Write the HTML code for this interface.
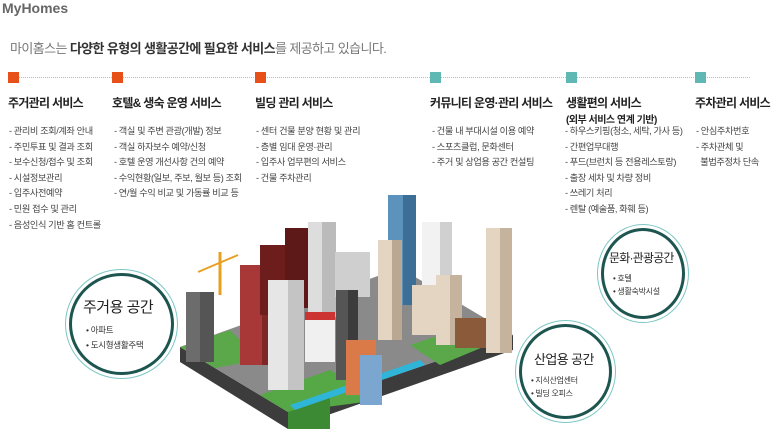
<!DOCTYPE html>
<html><head><meta charset="utf-8"><style>
body{margin:0;width:779px;height:429px;background:#fff;overflow:hidden;position:relative;font-family:"Liberation Sans","Noto Sans CJK KR",sans-serif;color:#333}
.a{position:absolute;white-space:nowrap}
.t{font-size:14px;font-weight:bold;color:#666;left:2px;top:0px}
.sub{left:10px;top:38px;font-size:13px;color:#777;letter-spacing:-0.6px}
.sub b{color:#333}
.sq{position:absolute;width:11px;height:11px;top:72px}
.o{background:#e8501a}.g{background:#5fb8b4}
.h{font-size:12px;font-weight:bold;color:#222;top:94px;letter-spacing:-0.7px}
.l{font-size:9.2px;color:#444;line-height:15.6px;letter-spacing:-0.4px}
.c{position:absolute;border-radius:50%;border:1.5px solid #7cc7c4;background:#fff}
.c>div{position:absolute;inset:3px;border-radius:50%;border:3px solid #1d5550}
</style></head><body>
<div class="a t">MyHomes</div>
<div class="a sub">마이홈스는 <b>다양한 유형의 생활공간에 필요한 서비스</b>를 제공하고 있습니다.</div>
<div class="a" style="left:10px;top:77px;width:740px;border-top:1px dotted #bbb"></div>
<div class="sq o" style="left:8px"></div><div class="sq o" style="left:112px"></div><div class="sq o" style="left:255px"></div>
<div class="sq g" style="left:430px"></div><div class="sq g" style="left:566px"></div><div class="sq g" style="left:695px"></div>
<div class="a h" style="left:8px">주거관리 서비스</div>
<div class="a h" style="left:112px">호텔&amp; 생숙 운영 서비스</div>
<div class="a h" style="left:255px">빌딩 관리 서비스</div>
<div class="a h" style="left:430px">커뮤니티 운영·관리 서비스</div>
<div class="a h" style="left:566px">생활편의 서비스</div>
<div class="a" style="left:566px;top:111px;font-size:10px;font-weight:bold;color:#222;letter-spacing:-0.5px">(외부 서비스 연계 기반)</div>
<div class="a h" style="left:695px">주차관리 서비스</div>
<div class="a l" style="left:9px;top:124px">- 관리비 조회/계좌 안내<br>- 주민투표 및 결과 조회<br>- 보수신청/접수 및 조회<br>- 시설정보관리<br>- 입주사전예약<br>- 민원 접수 및 관리<br>- 음성인식 기반 홈 컨트롤</div>
<div class="a l" style="left:114px;top:124px">- 객실 및 주변 관광(개발) 정보<br>- 객실 하자보수 예약/신청<br>- 호텔 운영 개선사항 건의 예약<br>- 수익현황(일보, 주보, 월보 등) 조회<br>- 연/월 수익 비교 및 가동률 비교 등</div>
<div class="a l" style="left:256px;top:124px">- 센터 건물 분양 현황 및 관리<br>- 층별 임대 운영·관리<br>- 입주사 업무편의 서비스<br>- 건물 주차관리</div>
<div class="a l" style="left:432px;top:124px">- 건물 내 부대시설 이용 예약<br>- 스포츠클럽, 문화센터<br>- 주거 및 상업용 공간 컨설팅</div>
<div class="a l" style="left:565px;top:124px">- 하우스키핑(청소, 세탁, 가사 등)<br>- 간편업무대행<br>- 푸드(브런치 등 전용레스토랑)<br>- 출장 세차 및 차량 정비<br>- 쓰레기 처리<br>- 렌탈 (예술품, 화훼 등)</div>
<div class="a l" style="left:696px;top:124px">- 안심주차번호<br>- 주차관체 및<br>&nbsp;&nbsp;불법주정차 단속</div>

<svg class="a" style="left:0;top:0" width="779" height="429">
<polygon points="180,347 288,412 513,335 513,350 288,429 180,362" fill="#3c3c3c"/>
<polygon points="180,347 400,268 513,335 288,412" fill="#8a8a8a"/>
<polygon points="260,395 330,370 380,400 288,412" fill="#55a845"/>
<polygon points="288,412 330,398 330,429 288,429" fill="#3d8a34"/>
<polygon points="180,347 230,330 260,360 215,368" fill="#5aa84a"/>
<polygon points="410,345 470,325 500,340 440,365" fill="#5aa84a"/>
<polygon points="290,405 420,360 425,365 295,410" fill="#2fb5d8"/>
<g stroke="none">
<rect x="186" y="292" width="28" height="70" fill="#6c6c6c"/><rect x="200" y="292" width="14" height="70" fill="#555"/>
<rect x="240" y="265" width="36" height="100" fill="#a83838"/><rect x="262" y="265" width="14" height="100" fill="#7f2626"/>
<rect x="260" y="245" width="36" height="70" fill="#6e1d1d"/><rect x="285" y="228" width="25" height="80" fill="#5d1818"/>
<rect x="308" y="222" width="28" height="95" fill="#ddd"/><rect x="322" y="222" width="14" height="95" fill="#bbb"/>
<rect x="268" y="280" width="36" height="110" fill="#e6e6e6"/><rect x="288" y="280" width="16" height="110" fill="#c4c4c4"/>
<rect x="335" y="252" width="35" height="45" fill="#cfcfcf"/>
<rect x="305" y="312" width="30" height="50" fill="#f0f0f0"/><rect x="305" y="312" width="30" height="8" fill="#c33"/>
<rect x="336" y="290" width="22" height="90" fill="#555"/><rect x="348" y="290" width="10" height="90" fill="#3c3c3c"/>
<rect x="346" y="340" width="30" height="55" fill="#d97a48"/>
<rect x="388" y="195" width="28" height="110" fill="#5b93bc"/><rect x="403" y="195" width="13" height="110" fill="#3d6e95"/>
<rect x="378" y="240" width="24" height="100" fill="#e4d4c2"/><rect x="392" y="240" width="10" height="100" fill="#bba892"/>
<rect x="422" y="222" width="30" height="110" fill="#f2f2f2"/><rect x="440" y="222" width="12" height="110" fill="#d0d0d0"/>
<rect x="412" y="285" width="26" height="50" fill="#e4d4c2"/>
<rect x="436" y="275" width="26" height="70" fill="#e4d4c2"/><rect x="450" y="275" width="12" height="70" fill="#c5b39e"/>
<rect x="455" y="318" width="35" height="30" fill="#8a5a3a"/>
<rect x="486" y="228" width="26" height="125" fill="#e4d4c2"/><rect x="500" y="228" width="12" height="125" fill="#c5b39e"/>
<rect x="360" y="355" width="22" height="50" fill="#7aa6cf"/>
<line x1="220" y1="295" x2="220" y2="252" stroke="#e8a020" stroke-width="3"/>
<line x1="198" y1="272" x2="238" y2="255" stroke="#e8a020" stroke-width="2"/>
</g>
</svg>

<div class="c" style="left:65px;top:269px;width:111px;height:108px"><div></div></div>
<div class="a" style="left:83px;top:296px;font-size:15px;color:#222;letter-spacing:-0.5px">주거용 공간</div>
<div class="a" style="left:86px;top:323px;font-size:8.5px;line-height:15px;color:#333;letter-spacing:-0.3px">• 아파트<br>• 도시형생활주택</div>

<div class="c" style="left:597px;top:224px;width:90px;height:97px"><div></div></div>
<div class="a" style="left:609px;top:249px;font-size:12px;color:#222;letter-spacing:-0.8px">문화·관광공간</div>
<div class="a" style="left:613px;top:272px;font-size:8px;line-height:13px;color:#333;letter-spacing:-0.3px">• 호텔<br>• 생활숙박시설</div>

<div class="c" style="left:515px;top:320px;width:99px;height:101px"><div></div></div>
<div class="a" style="left:534px;top:349px;font-size:13px;color:#222;letter-spacing:-0.6px">산업용 공간</div>
<div class="a" style="left:531px;top:374px;font-size:8px;line-height:13px;color:#333;letter-spacing:-0.3px">• 지식산업센터<br>• 빌딩 오피스</div>
</body></html>
